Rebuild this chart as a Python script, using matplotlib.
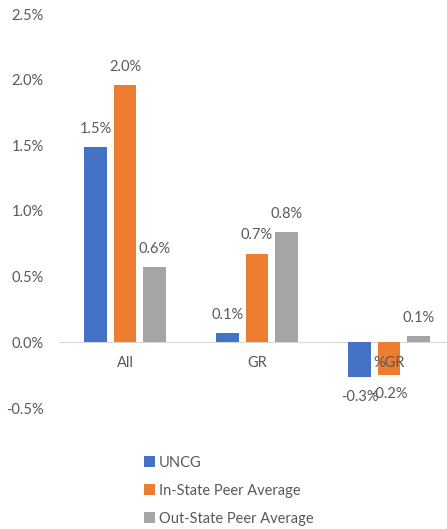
import numpy as np
import matplotlib.pyplot as plt
from matplotlib.ticker import FuncFormatter

categories = ['All', 'GR', '%GR']
series = ['UNCG', 'In-State Peer Average', 'Out-State Peer Average']
uncg = [1.49, 0.07, -0.264]
instate = [1.96, 0.676, -0.245]
outstate = [0.574, 0.84, 0.051]
colors = ['#4472C4', '#ED7D31', '#A5A5A5']

plt.rcParams['font.family'] = ['Lato', 'DejaVu Sans']
txt = '#595959'

fig = plt.figure(figsize=(4.47, 5.29), dpi=100)
ax = fig.add_axes([59/447, 121/529, 396/447, 394/529])

x = np.arange(len(categories))
w = 0.172
step = 0.222
for i, (vals, name) in enumerate(zip([uncg, instate, outstate], series)):
    bars = ax.bar(x + (i - 1) * step, vals, w, color=colors[i], label=name, zorder=1)
    for b, v in zip(bars, vals):
        off = 8 if v >= 0 else -9
        ax.annotate(f'{v:.1f}%', (b.get_x() + b.get_width() / 2, v),
                    xytext=(0, off), textcoords='offset points',
                    ha='center', va='bottom' if v >= 0 else 'top',
                    fontsize=10.5, color=txt)

ax.set_xlim(-0.5, 2.5)
ax.set_ylim(-0.5, 2.5)
ax.set_yticks(np.arange(-0.5, 2.51, 0.5))
ax.yaxis.set_major_formatter(FuncFormatter(lambda v, p: f'{v:.1f}%'))
ax.set_xticks(x)
ax.set_xticklabels(categories)
ax.tick_params(axis='both', length=0, labelsize=10.5, labelcolor=txt)
ax.tick_params(axis='y', pad=11)
ax.tick_params(axis='x', pad=10)
for s in ['top', 'right', 'left']:
    ax.spines[s].set_visible(False)
ax.spines['bottom'].set_position(('data', 0))
ax.spines['bottom'].set_color('#d9d9d9')
ax.spines['bottom'].set_zorder(0.5)

fig.legend(loc='upper left', bbox_to_anchor=(138/447, 1 - 450/529), frameon=False,
           fontsize=10.5, labelcolor=txt, handlelength=0.75, handleheight=0.75,
           handletextpad=0.3, labelspacing=0.95, borderaxespad=0)

fig.savefig('out.png', dpi=100)
